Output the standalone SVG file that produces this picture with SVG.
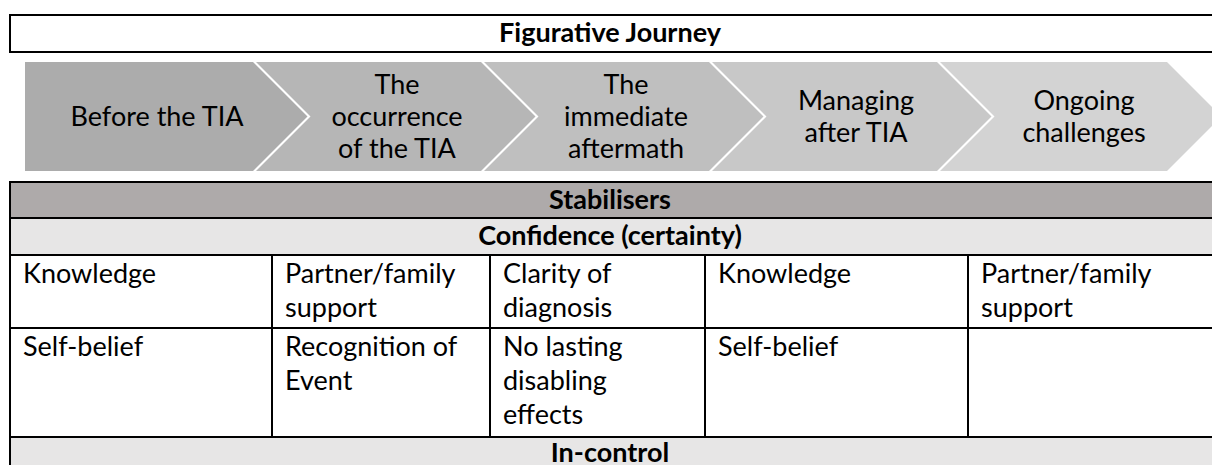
<svg xmlns="http://www.w3.org/2000/svg" width="1212" height="465" viewBox="0 0 1212 465">
<style>
  text { font-family: "Lato", "Open Sans", "Liberation Sans", sans-serif; font-size: 27px; fill: #000; }
  .b { font-weight: bold; }
  .c { text-anchor: middle; }
  .line { stroke: #000; stroke-width: 2; fill: none; }
  .chev { stroke: none; }
</style>
<rect width="1212" height="465" fill="#fff"/>

<g id="title">
  <rect x="10" y="15" width="1220" height="37" fill="#fff" stroke="#000" stroke-width="2"/>
  <text class="b c" x="610" y="42">Figurative Journey</text>
</g>

<g id="chevron1">
  <polygon class="chev" fill="#acacac" points="25,62 253,62 307.5,116.5 253,171 25,171"/>
  <text class="c" x="157" y="126">Before the TIA</text>
</g>
<g id="chevron2">
  <polygon class="chev" fill="#b6b6b6" points="256,62 481,62 535.5,116.5 481,171 256,171 310.5,116.5"/>
  <text class="c" x="397" y="94">The</text>
  <text class="c" x="397" y="126">occurrence</text>
  <text class="c" x="397" y="158">of the TIA</text>
</g>
<g id="chevron3">
  <polygon class="chev" fill="#bfbfbf" points="484,62 709,62 763.5,116.5 709,171 484,171 538.5,116.5"/>
  <text class="c" x="626" y="94">The</text>
  <text class="c" x="626" y="126">immediate</text>
  <text class="c" x="626" y="158">aftermath</text>
</g>
<g id="chevron4">
  <polygon class="chev" fill="#c8c8c8" points="712,62 937,62 991.5,116.5 937,171 712,171 766.5,116.5"/>
  <text class="c" x="856" y="110">Managing</text>
  <text class="c" x="856" y="142">after TIA</text>
</g>
<g id="chevron5">
  <polygon class="chev" fill="#d3d3d3" points="940,62 1167,62 1221.5,116.5 1167,171 940,171 994.5,116.5"/>
  <text class="c" x="1084" y="110">Ongoing</text>
  <text class="c" x="1084" y="142">challenges</text>
</g>

<g id="table">
  <rect x="10" y="182" width="1220" height="36" fill="#aeaaaa"/>
  <rect x="10" y="218" width="1220" height="37" fill="#e7e6e6"/>
  <rect x="10" y="255" width="1220" height="182" fill="#fff"/>
  <rect x="10" y="437" width="1220" height="40" fill="#e7e6e6"/>
  <path class="line" d="M10,182 H1230 M10,218 H1230 M10,255 H1230 M10,328 H1230 M10,437 H1230 M10,181 V470 M272,255 V437 M490,255 V437 M705,255 V437 M968,255 V437"/>
</g>

<g id="row-stabilisers"><text class="b c" x="610" y="209">Stabilisers</text></g>
<g id="row-confidence"><text class="b c" x="610" y="245">Confidence (certainty)</text></g>

<g id="r1c1"><text x="23" y="283">Knowledge</text></g>
<g id="r1c2"><text x="285" y="283">Partner/family</text><text x="285" y="317">support</text></g>
<g id="r1c3"><text x="503" y="283">Clarity of</text><text x="503" y="317">diagnosis</text></g>
<g id="r1c4"><text x="718" y="283">Knowledge</text></g>
<g id="r1c5"><text x="981" y="283">Partner/family</text><text x="981" y="317">support</text></g>

<g id="r2c1"><text x="23" y="356">Self-belief</text></g>
<g id="r2c2"><text x="285" y="356">Recognition of</text><text x="285" y="390">Event</text></g>
<g id="r2c3"><text x="503" y="356">No lasting</text><text x="503" y="390">disabling</text><text x="503" y="424">effects</text></g>
<g id="r2c4"><text x="718" y="356">Self-belief</text></g>
<g id="r2c5"></g>

<g id="row-incontrol"><text class="b c" x="610" y="462">In-control</text></g>
</svg>
